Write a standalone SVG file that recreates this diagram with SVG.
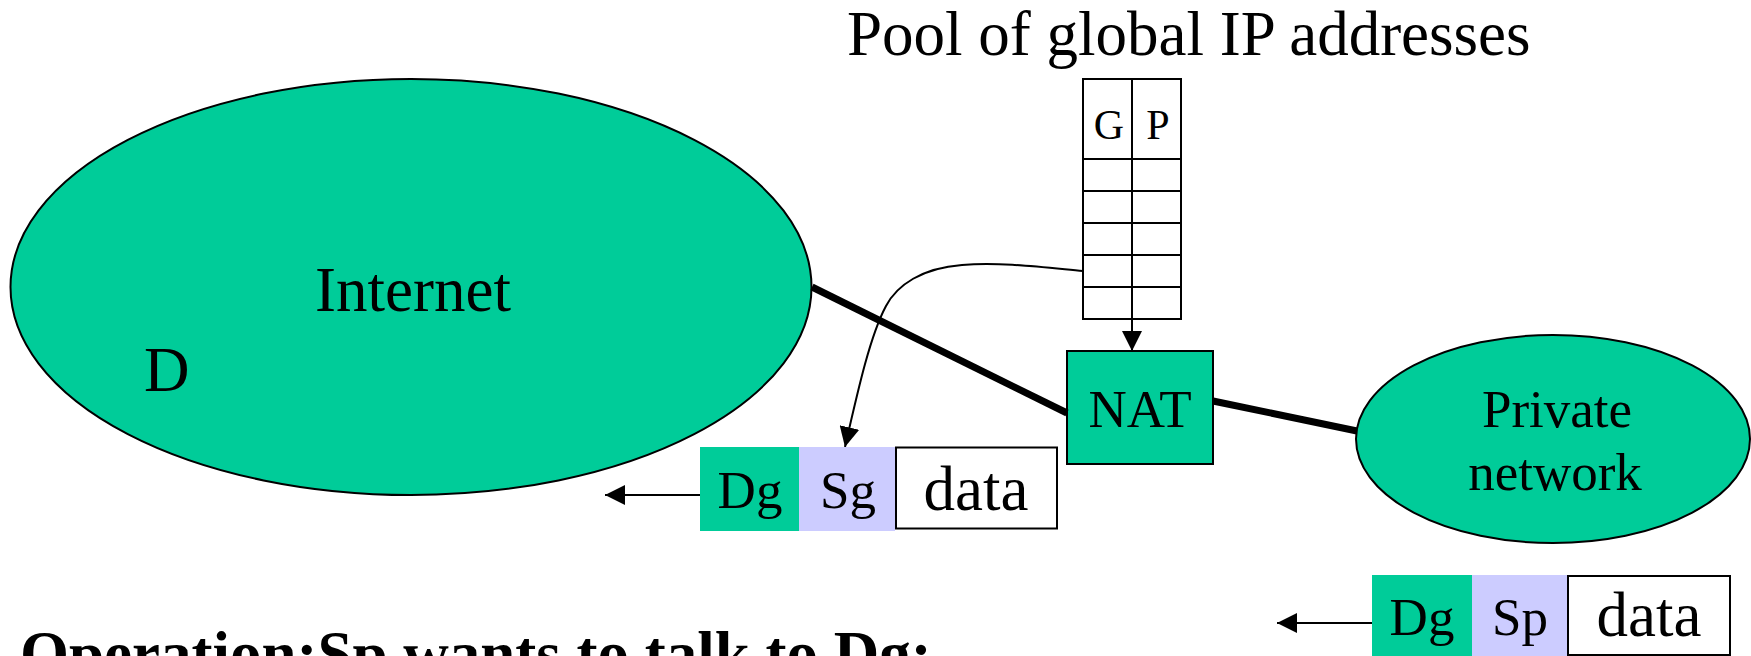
<svg xmlns="http://www.w3.org/2000/svg" width="1751" height="656" viewBox="0 0 1751 656">
  <style>
    text { font-family: "Liberation Serif", "Times New Roman", serif; fill: #000; }
    .big { font-size: 63px; }
    .mid { font-size: 53px; }
    .small { font-size: 42px; }
    .net { fill: #00CC99; stroke: #000; stroke-width: 2; }
    .green { fill: #00CC99; }
    .lav { fill: #CCCCFF; }
    .cell { fill: #FFFFFF; stroke: #000; stroke-width: 2; }
    .grid { stroke: #000; stroke-width: 2; fill: none; }
    .link { stroke: #000; stroke-width: 7; fill: none; }
    .arrow { stroke: #000; stroke-width: 2; fill: none; marker-end: url(#head); }
  </style>
  <defs>
    <marker id="head" markerUnits="userSpaceOnUse" markerWidth="20" markerHeight="20" viewBox="0 0 20 20" refX="20" refY="10" orient="auto">
      <path d="M0,0 L20,10 L0,20 Z" fill="#000"/>
    </marker>
  </defs>
  <rect width="1751" height="656" fill="#FFFFFF"/>

  <text id="title" class="big" x="847" y="55">Pool of global IP addresses</text>

  <g id="internet">
    <ellipse class="net" cx="411" cy="287" rx="400.5" ry="208"/>
    <text class="big" x="315" y="311">Internet</text>
    <text class="big" x="144" y="391">D</text>
  </g>

  <g id="private-network">
    <ellipse class="net" cx="1553" cy="439" rx="197" ry="104"/>
    <text class="mid" x="1557" y="427" text-anchor="middle">Private</text>
    <text class="mid" x="1555" y="490" text-anchor="middle">network</text>
  </g>

  <g id="address-pool">
    <rect class="cell" x="1083" y="79" width="98" height="240"/>
    <path class="grid" d="M1132,79 V319 M1083,159 H1181 M1083,191 H1181 M1083,223 H1181 M1083,255 H1181 M1083,287 H1181"/>
    <text class="small" x="1109" y="139" text-anchor="middle">G</text>
    <text class="small" x="1158" y="139" text-anchor="middle">P</text>
  </g>

  <g id="nat">
    <rect x="1067" y="351" width="146" height="113" class="net"/>
    <text class="mid" x="1140" y="427" text-anchor="middle">NAT</text>
  </g>

  <g id="connectors">
    <line class="link" x1="812" y1="287" x2="1067" y2="413"/>
    <line class="link" x1="1213" y1="401" x2="1357" y2="431"/>
    <line class="arrow" x1="1132" y1="319" x2="1132" y2="351"/>
    <path class="arrow" d="M1083,271 C1040,267 1000,262 962,265 C922,268 897,285 886,306 C870,336 858,390 845,447"/>
    <line class="arrow" x1="700" y1="495" x2="605" y2="495"/>
    <line class="arrow" x1="1372" y1="623" x2="1277" y2="623"/>
  </g>

  <g id="packet-global">
    <rect class="green" x="700" y="447" width="99" height="84"/>
    <rect class="lav" x="799" y="447" width="96" height="84"/>
    <rect class="cell" x="896" y="447.5" width="161" height="81"/>
    <text class="mid" x="750" y="508" text-anchor="middle">Dg</text>
    <text class="mid" x="848" y="508" text-anchor="middle">Sg</text>
    <text class="big" x="976" y="510" text-anchor="middle">data</text>
  </g>

  <g id="packet-private">
    <rect class="green" x="1372" y="575" width="100" height="81"/>
    <rect class="lav" x="1472" y="575" width="95" height="81"/>
    <rect class="cell" x="1568" y="576" width="162" height="79"/>
    <text class="mid" x="1422" y="635" text-anchor="middle">Dg</text>
    <text class="mid" x="1520" y="635" text-anchor="middle">Sp</text>
    <text class="big" x="1649" y="636" text-anchor="middle">data</text>
  </g>

  <!-- caption runs past the bottom edge of the slide -->
  <text id="caption" class="big" x="20" y="675" font-weight="bold">Operation:Sp wants to talk to Dg:</text>
</svg>
